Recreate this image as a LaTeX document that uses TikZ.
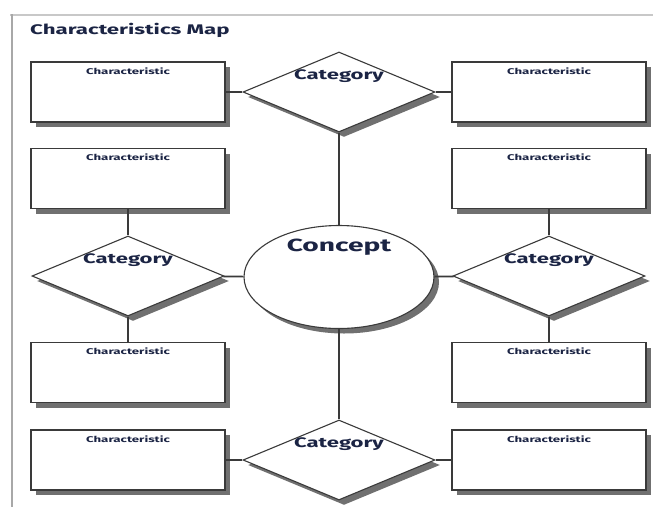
\documentclass[tikz,border=0pt]{standalone}
\usepackage{fontspec}
\setmainfont{Fira Sans}[FakeStretch=1.6]
\usetikzlibrary{shapes.geometric,shadows}
\definecolor{ink}{HTML}{1B2444}
\definecolor{edge}{HTML}{3A3A3A}
\definecolor{shadecol}{HTML}{707070}
\definecolor{rulecol}{HTML}{C8C8C8}
\definecolor{sidecol}{HTML}{A8A8A8}

\begin{document}
\begin{tikzpicture}[x=1pt,y=-1pt,
  castshadow/.style={drop shadow={shadow xshift=5pt,shadow yshift=-5pt,fill=shadecol,opacity=1}},
  charlabel/.style={anchor=north,yshift=-6pt,inner sep=0pt,
    font=\fontsize{8.3}{10}\selectfont\bfseries,text=ink},
  catlabel/.style={anchor=center,yshift=16pt,inner sep=0pt,
    font=\fontsize{13.8}{16}\selectfont\bfseries,text=ink},
  charbox/.style={rectangle,draw=edge,line width=1.1pt,fill=white,
    minimum width=194pt,minimum height=60pt,inner sep=0pt,castshadow,
    label={[charlabel]north:Characteristic}},
  catnode/.style={diamond,draw=edge,line width=1.1pt,fill=white,
    minimum width=192pt,minimum height=80pt,inner sep=0pt,castshadow,
    label={[catlabel]center:Category}},
  link/.style={draw=edge,line width=1.6pt}
]
\useasboundingbox (0,0) rectangle (653,507);

% page frame
\draw[rulecol,line width=2pt] (10,15) -- (653,15);
\draw[sidecol,line width=2.5pt] (12,14) -- (12,507);

% heading
\node[anchor=west,inner sep=0pt,font=\fontsize{13.9}{16}\selectfont\bfseries,text=ink]
  (title) at (30,30) {Characteristics Map};

% central concept
\node[ellipse,draw=edge,line width=1.1pt,fill=white,minimum width=190pt,
  minimum height=103pt,inner sep=0pt,castshadow,
  label={[anchor=center,yshift=30pt,inner sep=0pt,
    font=\fontsize{17.6}{20}\selectfont\bfseries,text=ink]center:Concept}]
  (concept) at (339,277) {};

% categories
\node[catnode] (catN) at (339,92) {};
\node[catnode] (catW) at (128,276) {};
\node[catnode] (catE) at (549,276) {};
\node[catnode] (catS) at (339,460) {};

% characteristics
\node[charbox] (nw)  at (128,92)  {};
\node[charbox] (ne)  at (549,92)  {};
\node[charbox] (wn)  at (128,178.5) {};
\node[charbox] (ws)  at (128,372.5) {};
\node[charbox] (en)  at (549,178.5) {};
\node[charbox] (es)  at (549,372.5) {};
\node[charbox] (sw)  at (128,460) {};
\node[charbox] (se)  at (549,460) {};

% connectors
\draw[link] (nw) -- (catN);
\draw[link] (catN) -- (ne);
\draw[link] (catN) -- (concept);
\draw[link] (concept) -- (catS);
\draw[link] (catW) -- (concept);
\draw[link] (concept) -- (catE);
\draw[link] (wn) -- (catW);
\draw[link] (catW) -- (ws);
\draw[link] (en) -- (catE);
\draw[link] (catE) -- (es);
\draw[link] (sw) -- (catS);
\draw[link] (catS) -- (se);
\end{tikzpicture}
\end{document}
